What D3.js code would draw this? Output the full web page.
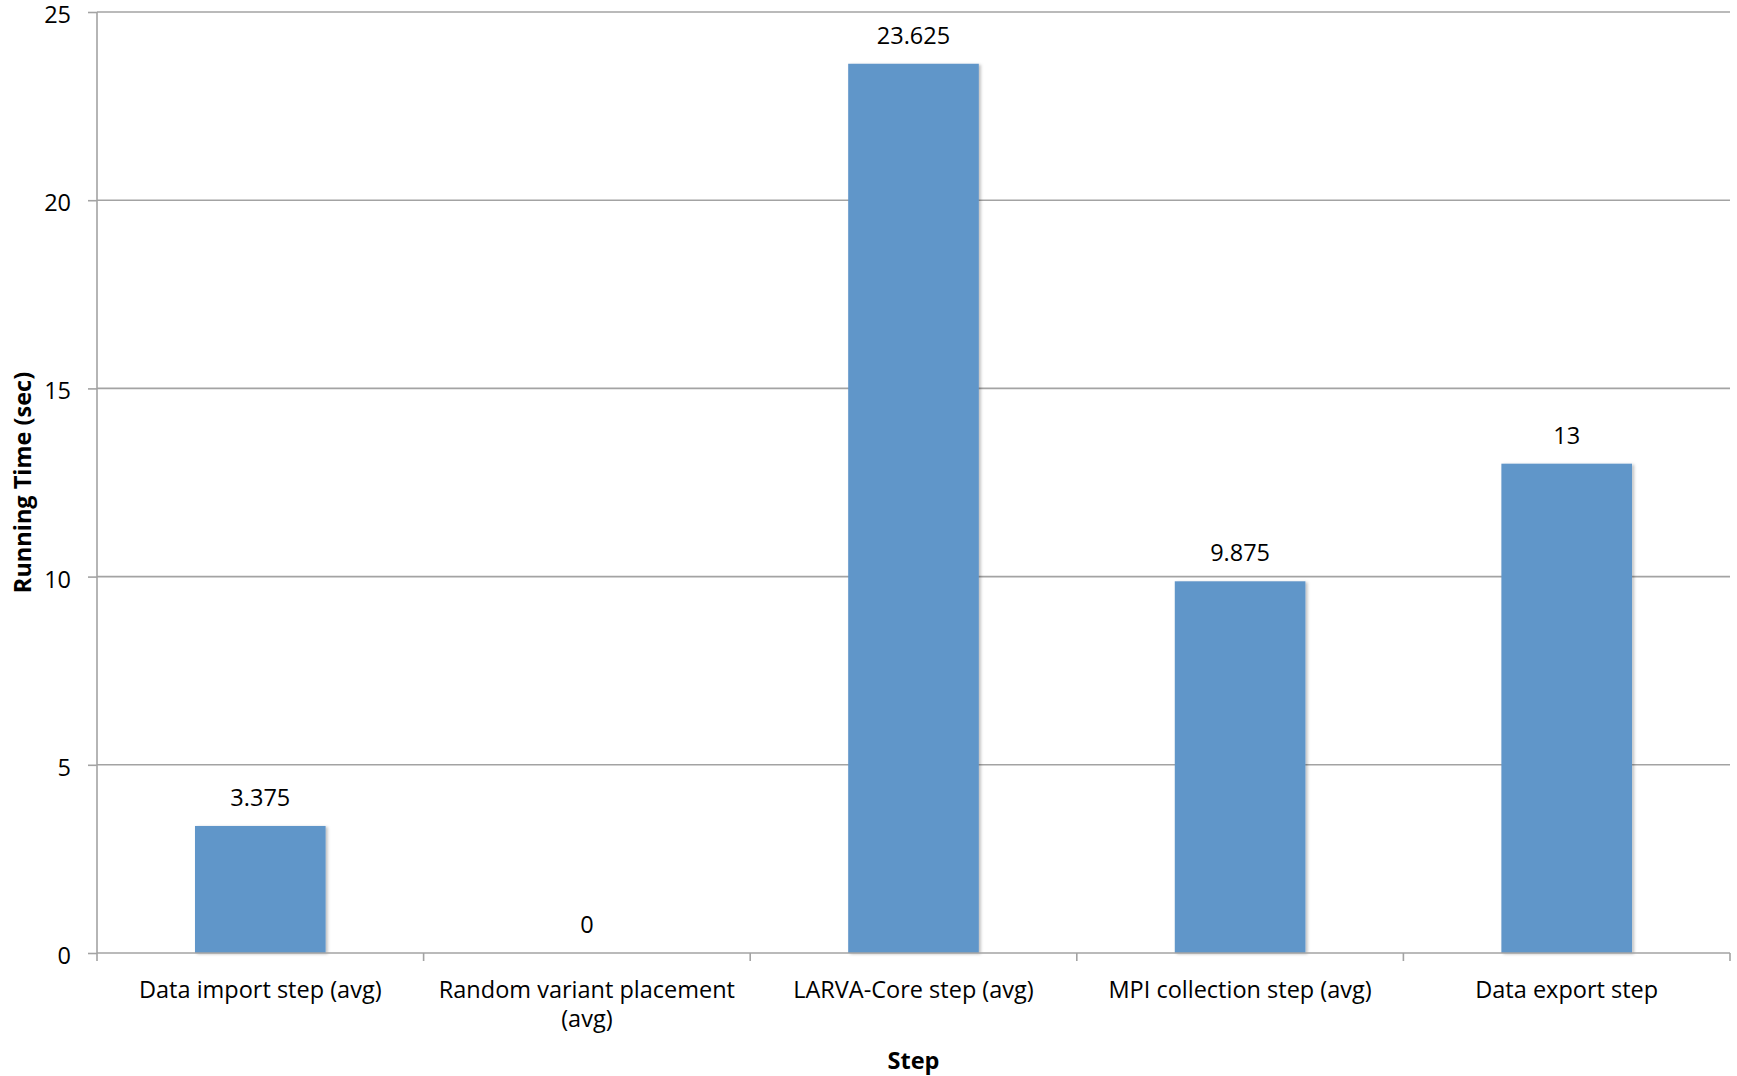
<!DOCTYPE html>
<html>
<head>
<meta charset="utf-8">
<script src="https://cdn.jsdelivr.net/npm/d3@7"></script>
<style>
  html, body { margin: 0; padding: 0; background: #fff; }
  svg { display: block; }
  text { font-family: "Open Sans", "Noto Sans", sans-serif; fill: #000; }
</style>
</head>
<body>
<svg id="chart" width="1737" height="1076"></svg>
<script>
const categories = [
  "Data import step (avg)",
  "Random variant placement (avg)",
  "LARVA-Core step (avg)",
  "MPI collection step (avg)",
  "Data export step"
];
const values = [3.375, 0, 23.625, 9.875, 13];
const valueLabels = ["3.375", "0", "23.625", "9.875", "13"];
const yTicks = [0, 5, 10, 15, 20, 25];
const xTitle = "Step";
const yTitle = "Running Time (sec)";

const W = 1737, H = 1076;
const FS = "23.5px";
const margin = { left: 97, right: 7, top: 12, bottom: 123 };
const plotW = W - margin.left - margin.right;
const plotH = H - margin.top - margin.bottom;

const svg = d3.select("#chart");
const defs = svg.append("defs");
const f = defs.append("filter").attr("id", "shadow").attr("x", "-10%").attr("y", "-10%").attr("width", "130%").attr("height", "120%");
f.append("feDropShadow").attr("dx", 2).attr("dy", 1).attr("stdDeviation", 1.5).attr("flood-color", "#000").attr("flood-opacity", 0.25);

const g = svg.append("g").attr("transform", `translate(${margin.left},${margin.top})`);

const x = d3.scaleBand().domain(categories).range([0, plotW]).paddingInner(0.6).paddingOuter(0.3);
const y = d3.scaleLinear().domain([0, 25]).range([plotH, 0]);

// y ticks + labels
const yAxis = d3.axisLeft(y).tickValues(yTicks).tickSize(9).tickPadding(17).tickFormat(d3.format("d"));
const yg = g.append("g").call(yAxis);
yg.select(".domain").remove();
yg.selectAll(".tick line").attr("stroke", "#a3a3a3").attr("stroke-width", 1.6);
yg.selectAll(".tick text").style("font-size", FS).attr("fill", "#000").attr("dy", "0.45em");

// gridlines
g.append("g").selectAll("line").data(yTicks.filter(d => d !== 0)).join("line")
  .attr("x1", 0).attr("x2", plotW)
  .attr("y1", d => y(d)).attr("y2", d => y(d))
  .attr("stroke", "#a3a3a3").attr("stroke-width", 1.6);

// y axis line
g.append("line").attr("x1", 0).attr("x2", 0).attr("y1", 0).attr("y2", plotH)
  .attr("stroke", "#a3a3a3").attr("stroke-width", 1.6);

// bars
g.append("g").selectAll("rect").data(values).join("rect")
  .attr("x", (d, i) => x(categories[i]))
  .attr("y", d => y(d))
  .attr("width", x.bandwidth())
  .attr("height", d => plotH - y(d))
  .attr("fill", "#6096c9")
  .attr("filter", "url(#shadow)");

// x axis baseline with category separators
const step = plotW / categories.length;
const sepX = d3.range(categories.length + 1).map(i => i * step);
g.append("line").attr("x1", 0).attr("x2", plotW).attr("y1", plotH).attr("y2", plotH)
  .attr("stroke", "#a3a3a3").attr("stroke-width", 1.6);
g.append("g").selectAll("line").data(sepX).join("line")
  .attr("x1", d => d).attr("x2", d => d)
  .attr("y1", plotH).attr("y2", plotH + 8)
  .attr("stroke", "#a3a3a3").attr("stroke-width", 1.6);

// value labels
g.append("g").selectAll("text").data(values).join("text")
  .attr("x", (d, i) => x(categories[i]) + x.bandwidth() / 2)
  .attr("y", d => y(d) - 20)
  .attr("text-anchor", "middle")
  .style("font-size", FS)
  .text((d, i) => valueLabels[i]);

// category labels with wrapping
const maxW = 305;
const cat = g.append("g").selectAll("text").data(categories).join("text")
  .attr("x", (d) => x(d) + x.bandwidth() / 2)
  .attr("y", plotH + 45)
  .attr("text-anchor", "middle")
  .style("font-size", FS);
cat.each(function(d) {
  const t = d3.select(this);
  const words = d.split(" ");
  let line = [];
  let ts = t.append("tspan").attr("x", t.attr("x"));
  for (const w of words) {
    line.push(w);
    ts.text(line.join(" "));
    if (ts.node().getComputedTextLength() > maxW && line.length > 1) {
      line.pop();
      ts.text(line.join(" "));
      line = [w];
      ts = t.append("tspan").attr("x", t.attr("x")).attr("dy", 29).text(w);
    }
  }
});

// axis titles
svg.append("text")
  .attr("x", margin.left + plotW / 2)
  .attr("y", 1069)
  .attr("text-anchor", "middle")
  .style("font-size", FS).style("font-weight", "bold")
  .text(xTitle);

svg.append("text")
  .attr("transform", `translate(31,${margin.top + plotH / 2}) rotate(-90)`)
  .attr("text-anchor", "middle")
  .style("font-size", FS).style("font-weight", "bold")
  .text(yTitle);
</script>
</body>
</html>
